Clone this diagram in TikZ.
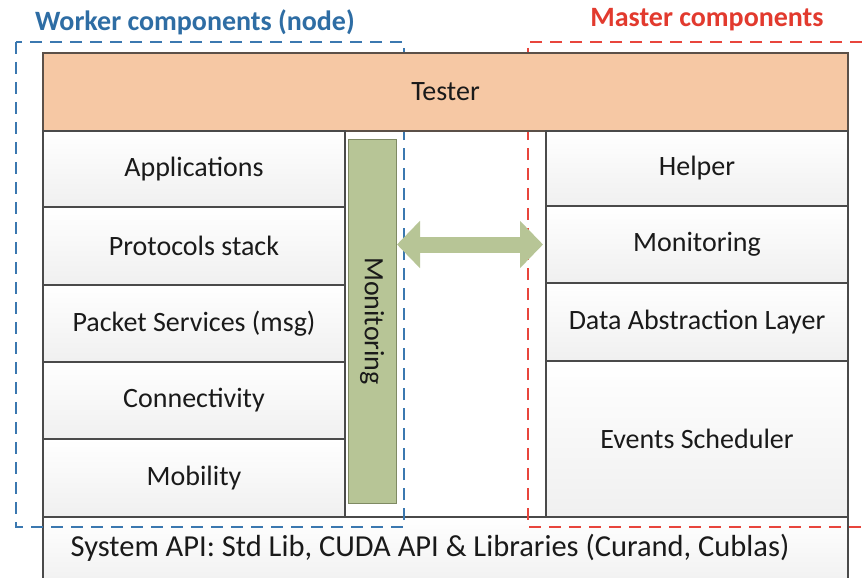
\documentclass[tikz,border=0pt]{standalone}
\usepackage{fontspec}
\setmainfont{Carlito}
\usetikzlibrary{arrows.meta}
\definecolor{boxline}{HTML}{4A4A4A}
\definecolor{testerfill}{HTML}{F6C8A4}
\definecolor{testerline}{HTML}{5B5048}
\definecolor{greenfill}{HTML}{B7C596}
\definecolor{greenline}{HTML}{7F8A63}
\definecolor{workerblue}{HTML}{3B78B0}
\definecolor{workertext}{HTML}{2E6DA4}
\definecolor{masterred}{HTML}{E8453C}
\definecolor{mastertext}{HTML}{E23A2E}
\definecolor{txt}{HTML}{1A1A1A}
\tikzset{
  layerbox/.style={draw=boxline, line width=2pt, top color=white, bottom color=black!6,
    inner sep=0pt, outer sep=0pt, text=txt, font=\fontsize{28}{32}\selectfont},
  testerbox/.style={layerbox, fill=testerfill, top color=testerfill, bottom color=testerfill, draw=testerline},
  monbar/.style={draw=greenline, line width=1pt, fill=greenfill, inner sep=0pt, outer sep=0pt,
    text=txt, font=\fontsize{28}{32}\selectfont},
  groupline/.style={dashed, line width=2pt, dash pattern=on 12pt off 8pt},
  grouplabel/.style={font=\bfseries\fontsize{28}{32}\selectfont, inner sep=0pt},
  bigarrow/.style={line width=16pt, draw=greenfill,
    {Triangle[length=23pt,width=46pt]}-{Triangle[length=23pt,width=46pt]}}
}
\begin{document}
\begin{tikzpicture}[x=1pt,y=-1pt]
\useasboundingbox (0,0) rectangle (862,578);
\clip (0,0) rectangle (862,578);
\fill[white] (0,0) rectangle (862,578);
% system API box
\node[layerbox, minimum width=805pt, minimum height=72pt] (sys) at (445.5,553) {};
\node[text=txt, font=\fontsize{30.5}{34}\selectfont] (systxt) at (430,548) {System API: Std Lib, CUDA API \& Libraries (Curand, Cublas)};
% group frames
\draw[groupline, draw=workerblue] (16,42) rectangle (404,527);
\draw[groupline, draw=masterred] (862,42) -- (528,42) -- (528,527) -- (862,527);
\node[grouplabel, text=workertext] (wlabel) at (195,22) {Worker components (node)};
\node[grouplabel, text=mastertext] (mlabel) at (707,20) {Master components};
% tester
\node[testerbox, minimum width=805pt, minimum height=78pt] (tester) at (445.5,92) {Tester};
% left column
\node[layerbox, minimum width=302pt, minimum height=76pt] (app) at (194,169) {Applications};
\node[layerbox, minimum width=302pt, minimum height=78pt] (proto) at (194,246) {Protocols stack};
\node[layerbox, minimum width=302pt, minimum height=77pt] (pkt) at (194,323.5) {Packet Services (msg)};
\node[layerbox, minimum width=302pt, minimum height=77pt] (conn) at (194,400.5) {Connectivity};
\node[layerbox, minimum width=302pt, minimum height=78pt] (mob) at (194,478) {Mobility};
% monitoring bar
\node[monbar, minimum width=48pt, minimum height=364pt] (mbar) at (372,321) {};
\node[text=txt, font=\fontsize{28}{32}\selectfont, rotate=-90] (mbartxt) at (372,321) {Monitoring};
% right column
\node[layerbox, minimum width=302pt, minimum height=75pt] (helper) at (697,168.5) {Helper};
\node[layerbox, minimum width=302pt, minimum height=77pt] (rmon) at (697,244.5) {Monitoring};
\node[layerbox, minimum width=302pt, minimum height=78pt] (dal) at (697,322) {Data Abstraction Layer};
\node[layerbox, minimum width=302pt, minimum height=156pt] (ev) at (697,439) {Events Scheduler};
% arrow
\draw[bigarrow, shorten <=1pt, shorten >=3pt] (mbar.east |- rmon.west) -- (rmon.west);
\end{tikzpicture}
\end{document}
